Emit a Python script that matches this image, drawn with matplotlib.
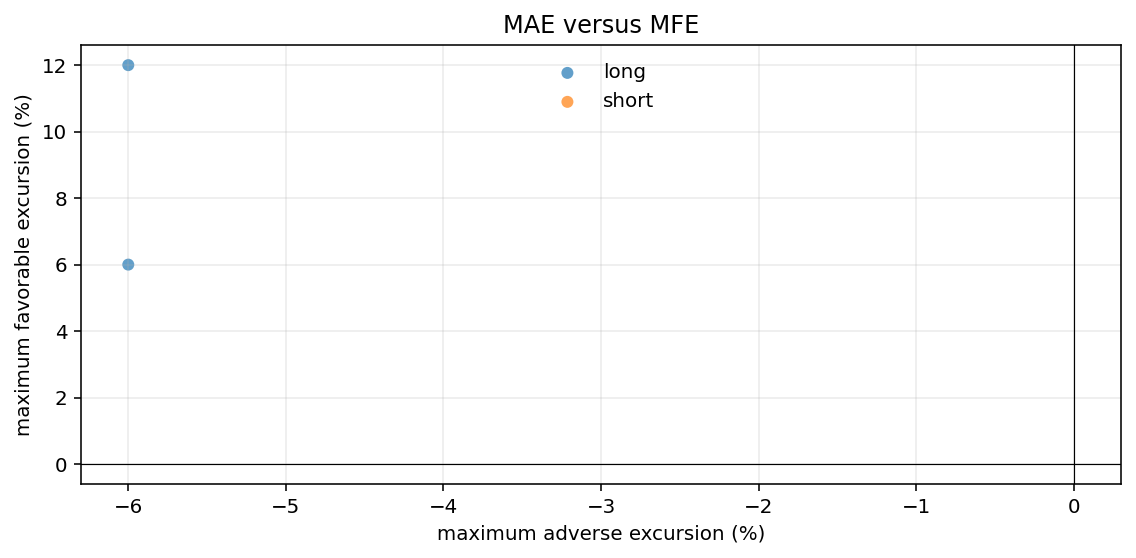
import matplotlib
matplotlib.use("Agg")
import matplotlib.pyplot as plt

# trade excursions (%)
long_mae = [-6, -6]
long_mfe = [12, 6]
short_mae = []
short_mfe = []

fig, ax = plt.subplots(figsize=(8, 558 / 142), dpi=142)

ax.scatter(long_mae, long_mfe, s=37, color="tab:blue", alpha=0.7, label="long", edgecolors="none")
ax.scatter(short_mae, short_mfe, s=37, color="tab:orange", alpha=0.7, label="short", edgecolors="none")

ax.axhline(0, color="black", linewidth=0.6)
ax.axvline(0, color="black", linewidth=0.6)

ax.set_title("MAE versus MFE", fontsize=12.15)
ax.set_xlabel("maximum adverse excursion (%)", fontsize=10.1)
ax.set_ylabel("maximum favorable excursion (%)", fontsize=10.1)
ax.tick_params(labelsize=10.1)
ax.grid(True, alpha=0.25)
ax.legend(loc="upper center", frameon=False, fontsize=10.1)

fig.subplots_adjust(left=0.0713, right=0.9868, top=0.919, bottom=0.1326)
fig.savefig("out.png", dpi=142)
